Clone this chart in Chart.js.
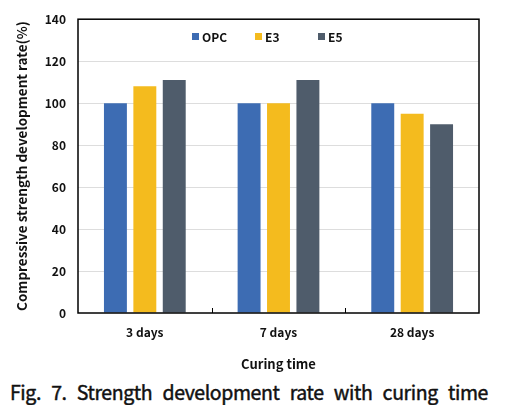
<!DOCTYPE html>
<html>
<head>
<meta charset="utf-8">
<script src="https://cdn.jsdelivr.net/npm/chart.js@4"></script>
<style>
  html, body { margin: 0; padding: 0; background: #fff; }
  #wrap { position: relative; width: 506px; height: 376px; }
  #caption {
    width: 478px; margin-left: 10px; margin-top: 3px;
    font-family: "Noto Sans CJK KR", "Noto Sans", sans-serif;
    font-size: 19.5px; font-weight: normal; color: #111;
    -webkit-text-stroke: 0.45px #111;
    letter-spacing: -0.4px;
    text-align: justify; text-align-last: justify;
    white-space: nowrap;
    line-height: 26px;
  }
</style>
</head>
<body>
<div id="wrap"><canvas id="strengthChart"></canvas></div>
<div id="caption">Fig. 7. Strength development rate with curing time</div>
<script>
const categories = ['3 days', '7 days', '28 days'];
const opcValues = [100, 100, 100];
const e3Values = [108, 100, 95];
const e5Values = [111, 111, 90];
const yTicks = [0, 20, 40, 60, 80, 100, 120, 140];

const fontFamily = '"Noto Sans CJK KR", "Noto Sans", sans-serif';

// frame, inside x ticks and legend inside the plot
const framePlugin = {
    id: 'frame',
    afterDraw(chart) {
        const ctx = chart.ctx;
        const a = chart.chartArea;
        const x = chart.scales.x;
        ctx.save();
        ctx.strokeStyle = '#000';
        ctx.lineWidth = 1.5;
        ctx.strokeRect(a.left, a.top, a.right - a.left, a.bottom - a.top);
        ctx.lineWidth = 1;
        for (let i = 0; i < categories.length - 1; i++) {
            const px = Math.round((x.getPixelForValue(i) + x.getPixelForValue(i + 1)) / 2) + 0.5;
            ctx.beginPath();
            ctx.moveTo(px, a.bottom);
            ctx.lineTo(px, a.bottom - 5);
            ctx.stroke();
        }
        // legend
        ctx.font = 'bold 12px ' + fontFamily;
        ctx.textBaseline = 'middle';
        let lx = 192;
        chart.data.datasets.forEach(ds => {
            ctx.fillStyle = ds.backgroundColor;
            ctx.fillRect(lx, 33, 7, 7);
            ctx.fillStyle = '#111';
            ctx.fillText(ds.label, lx + 10, 37);
            lx += 63;
        });
        ctx.restore();
    }
};

const ctx = document.getElementById('strengthChart').getContext('2d');
const myChart = new Chart(ctx, {
    type: 'bar',
    data: {
        labels: categories,
        datasets: [{
            label: 'OPC',
            data: opcValues,
            backgroundColor: '#3D6CB3',
        }, {
            label: 'E3',
            data: e3Values,
            backgroundColor: '#F4BB1E',
        }, {
            label: 'E5',
            data: e5Values,
            backgroundColor: '#4F5C6B',
        }],
    },
    options: {
        responsive: true,
        maintainAspectRatio: false,
        animation: false,
        events: [],
        layout: { padding: { top: 17, right: 27, left: 0, bottom: 0 } },
        datasets: {
            bar: { categoryPercentage: 0.66, barPercentage: 0.78 }
        },
        plugins: {
            legend: { display: false },
            tooltip: { enabled: false },
        },
        scales: {
            x: {
                afterFit(scale) { scale.height = 63; },
                grid: { display: false },
                border: { display: false },
                ticks: {
                    color: '#111',
                    padding: 4,
                    font: { family: fontFamily, size: 12, weight: 'bold' },
                },
                title: {
                    display: true,
                    text: 'Curing time',
                    color: '#111',
                    padding: { top: 17 },
                    font: { family: fontFamily, size: 13, weight: 'bold' },
                }
            },
            y: {
                min: 0,
                max: 140,
                afterFit(scale) { scale.width = 78; },
                afterBuildTicks(scale) { scale.ticks = yTicks.map(v => ({ value: v })); },
                grid: {
                    color: ctx => (ctx.tick && (ctx.tick.value === 0 || ctx.tick.value === 140)) ? 'rgba(0,0,0,0)' : '#DDDDDD',
                    drawTicks: false,
                    lineWidth: 1,
                },
                border: { display: false },
                ticks: {
                    color: '#111',
                    padding: 12,
                    font: { family: fontFamily, size: 12, weight: 'bold' },
                },
                title: {
                    display: true,
                    text: 'Compressive strength development rate(%)',
                    color: '#111',
                    padding: { top: 14, bottom: 0 },
                    font: { family: fontFamily, size: 13.5, weight: 'bold' },
                }
            }
        }
    },
    plugins: [framePlugin]
});
</script>
</body>
</html>
